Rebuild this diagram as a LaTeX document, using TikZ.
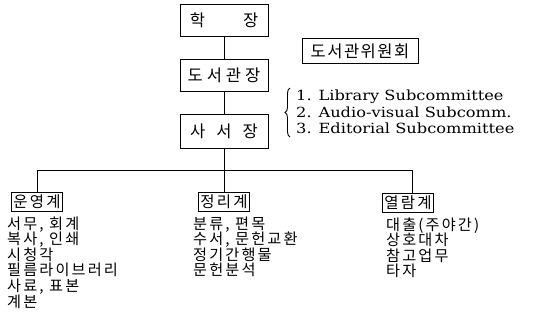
\documentclass[tikz,border=0pt]{standalone}
\usepackage{fontspec}
\newfontfamily\kr{Noto Sans CJK KR}
\newfontfamily\krl[LetterSpace=14]{Noto Sans CJK KR}
\newfontfamily\en[FakeStretch=1.16]{DejaVu Serif}
\usetikzlibrary{decorations.pathreplacing}
\begin{document}
\begin{tikzpicture}[x=1pt,y=-1pt,
  bx/.style={draw, line width=0.7pt, minimum width=88pt, minimum height=32pt, inner sep=0pt, font=\kr\fontsize{16.5}{18}\selectfont},
  sbx/.style={draw, line width=0.6pt, minimum height=19pt, inner xsep=2pt, inner ysep=0pt, font=\krl\fontsize{15.5}{17}\selectfont},
  ln/.style={line width=0.7pt},
  lst/.style={anchor=base west, inner sep=0pt, font=\krl\fontsize{15.2}{16}\selectfont},
  eng/.style={anchor=base west, inner sep=0pt, font=\en\fontsize{14}{16}\selectfont}]
\useasboundingbox (0,0) rectangle (533,333);
% top boxes
\node[bx] (hak) at (224,20) {학\hspace{38pt}장};
\node[bx] (dgj) at (224,75) {도\hspace{4pt}서\hspace{4pt}관\hspace{4pt}장};
\node[bx, minimum height=34pt] (ssj) at (224,131) {사\hspace{11pt}서\hspace{11pt}장};
\node[draw, line width=0.6pt, minimum width=116pt, minimum height=25pt, inner sep=0pt,
      font=\kr\fontsize{16.5}{18}\selectfont] (cmt) at (360,51)
      {도\hspace{1.5pt}서\hspace{1.5pt}관\hspace{1.5pt}위\hspace{1.5pt}원\hspace{1.5pt}회};
\draw[ln] (hak) -- (dgj);
\draw[ln] (dgj) -- (ssj);
% subcommittees
\coordinate (bt) at (290,88);
\coordinate (bb) at (290,137);
\draw[decorate, decoration={brace, amplitude=5pt}, line width=0.9pt] (bb) -- (bt);
\node[eng] (s1) at (296,100) {1. Library Subcommittee};
\node[eng] (s2) at (296,117) {2. Audio-visual Subcomm.};
\node[eng] (s3) at (296,133) {3. Editorial Subcommittee};
% branch
\coordinate (hm) at (224,170);
\coordinate (hl) at (37,170);
\coordinate (hr) at (412,170);
\draw[ln] (ssj) -- (hm);
\draw[line width=0.9pt] (hl) -- (hr);
\node[sbx] (un) at (37,202) {운영계};
\node[sbx] (jr) at (224,202) {정리계};
\node[sbx] (yr) at (408,203) {열람계};
\draw[ln] (hl) -- (un);
\draw[ln] (hm) -- (jr);
\draw[ln] (hr) -- (hr |- yr.north);
% lists
\foreach \t [count=\i] in {{서무, 회계},{복사, 인쇄},{시청각},{필름라이브러리},{사료, 표본},{계본}}
  \node[lst] (ua\i) at (7,229+15.6*\i-15.6) {\t};
\foreach \t [count=\i] in {{분류, 편목},{수서, 문헌교환},{정기간행물},{문헌분석}}
  \node[lst] (jb\i) at (193,229+15.6*\i-15.6) {\t};
\foreach \t [count=\i] in {{대출(주야간)},{상호대차},{참고업무},{타자}}
  \node[lst] (yc\i) at (386,230+15.6*\i-15.6) {\t};
\end{tikzpicture}
\end{document}
